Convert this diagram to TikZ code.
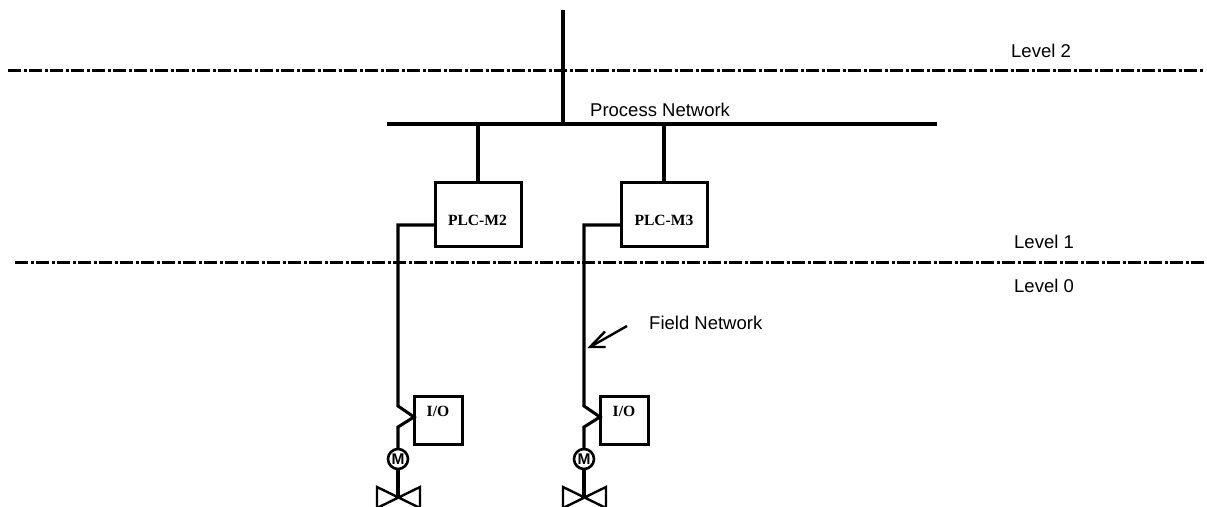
\documentclass[tikz,border=0pt]{standalone}
\usepackage{fontspec}
\setmainfont{Liberation Sans}
\newfontfamily\boxfont{Liberation Serif}[Scale=1]
\begin{document}
\begin{tikzpicture}[x=1pt,y=-1pt,line join=miter,
  wire/.style={line width=3.05pt},
  levelline/.style={line width=3pt,dash pattern=on 13pt off 3pt on 2.5pt off 2.5pt},
  plcbox/.style={draw,line width=3pt,outer sep=0pt,minimum width=86pt,minimum height=64pt,inner sep=0pt,anchor=north west},
  iobox/.style={draw,line width=3pt,outer sep=0pt,minimum width=48pt,minimum height=48pt,inner sep=0pt,anchor=north west},
  boxlabel/.style={font=\boxfont\bfseries\fontsize{15.6}{18}\selectfont,inner sep=0pt},
  caption/.style={font=\fontsize{18.5}{22}\selectfont,inner sep=0pt,anchor=base west},
  motor/.style={draw,circle,line width=2.6pt,outer sep=0pt,minimum size=20pt,inner sep=0pt,font=\bfseries\fontsize{15.5}{17}\selectfont},
  valveshape/.style={line width=2.4pt}]
\useasboundingbox (0,0) rectangle (1207,506);
\clip (0,0) rectangle (1207,506);

% level lines
\coordinate (l2a) at (8,70);   \coordinate (l2b) at (1204,70);
\coordinate (l1a) at (15,262); \coordinate (l1b) at (1206,262);
\draw[levelline] (l2a) -- (l2b);
\draw[levelline] (l1a) -- (l1b);

% captions
\node[caption] (lv2) at (1011,57) {Level 2};
\node[caption] (lv1) at (1014,248) {Level 1};
\node[caption] (lv0) at (1014,292) {Level 0};
\node[caption] (pn) at (590,116) {Process Network};
\node[caption] (fn) at (649,329) {Field Network};

% bus
\coordinate (busa) at (387,124); \coordinate (busb) at (937,124);
\coordinate (top) at (563,10);   \coordinate (topb) at (563,124);
\draw[wire] (busa) -- (busb);
\draw[wire] (top) -- (topb);

% PLCs
\node[plcbox] (plc2) at (435,182) {};
\node[plcbox] (plc3) at (621,182) {};
\node[boxlabel] (plc2t) at (477.5,220) {PLC-M2};
\node[boxlabel] (plc3t) at (664,220) {PLC-M3};
\draw[wire] (plc2.north |- busa) -- (plc2.north);
\draw[wire] (plc3.north |- busa) -- (plc3.north);

% I/O
\node[iobox] (io2) at (414,396) {};
\node[iobox] (io3) at (600,396) {};
\node[boxlabel] (io2t) at (438,411) {I/O};
\node[boxlabel] (io3t) at (624,411) {I/O};

% motors
\node[motor] (m2) at (398,459) {M};
\node[motor] (m3) at (584,459) {M};

% valve centres
\coordinate (v2) at (398,497);
\coordinate (v3) at (584,497);

% field wires
\draw[wire] (plc2.west |- 0,225) -- (398,225) -- (398,406) -- (io2.west |- 0,417) -- (398,427) -- (m2.north);
\draw[wire] (plc3.west |- 0,225) -- (584,225) -- (584,406) -- (io3.west |- 0,417) -- (584,427) -- (m3.north);
\draw[wire] (m2.south) -- (v2);
\draw[wire] (m3.south) -- (v3);

% valves
\draw[valveshape] (377,487) -- (420,508) -- (420,487) -- (377,508) -- cycle;
\draw[valveshape] (563,487) -- (606,508) -- (606,487) -- (563,508) -- cycle;

% field network arrow
\coordinate (fa) at (627,326);
\coordinate (fb) at (590,347);
\draw[line width=2.4pt] (fa) -- (fb);
\draw[line width=2.4pt] (605,331.5) -- (fb) -- (605.5,347);
\end{tikzpicture}
\end{document}
